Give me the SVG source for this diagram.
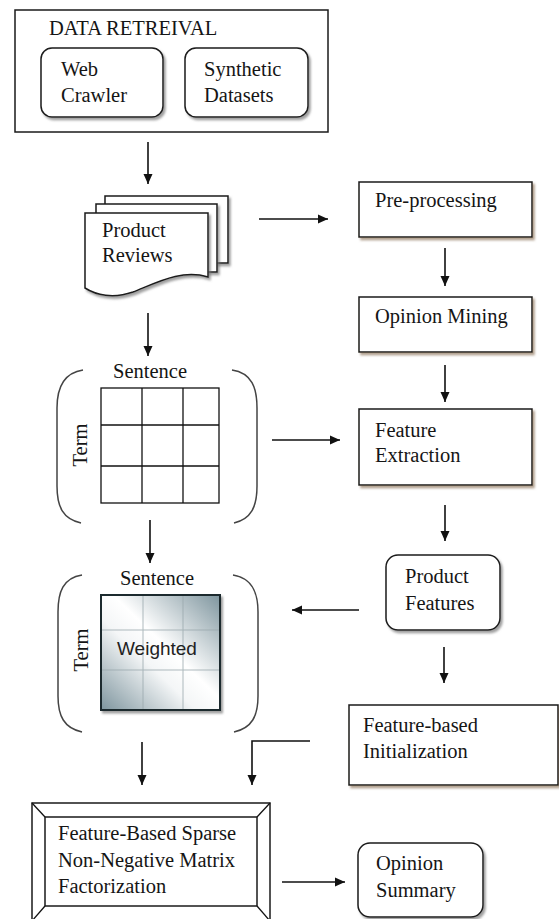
<svg xmlns="http://www.w3.org/2000/svg" width="559" height="919" viewBox="0 0 559 919">
<style>
.t{font-family:"Liberation Serif","Times New Roman",serif;font-size:20.5px;fill:#151515}
.s{font-family:"Liberation Sans",Arial,sans-serif;font-size:19px;fill:#222}
.box{fill:#fff;stroke:#1a1a1a;stroke-width:1.5}
.sh{filter:url(#ds)}
.shb{filter:url(#dsb)}
.ln{fill:none;stroke:#111;stroke-width:1.6}
.gl{fill:none;stroke:#111;stroke-width:1.3}
.br{fill:none;stroke:#444;stroke-width:1.5}
</style>
<defs>
<filter id="ds" x="-10%" y="-10%" width="130%" height="130%">
<feDropShadow dx="2" dy="2.5" stdDeviation="1.2" flood-color="#777" flood-opacity="0.7"/>
</filter>
<filter id="dsb" x="-10%" y="-10%" width="130%" height="130%">
<feDropShadow dx="2" dy="2.5" stdDeviation="1" flood-color="#9c8670" flood-opacity="0.8"/>
</filter>
<marker id="ah" viewBox="0 0 10 10" refX="10" refY="5" markerWidth="10" markerHeight="10" markerUnits="userSpaceOnUse" orient="auto">
<path d="M0,0.5 L10,5 L0,9.5 Z" fill="#111"/>
</marker>
<linearGradient id="wg" x1="1" y1="0" x2="0" y2="1">
<stop offset="0" stop-color="#7e959e"/>
<stop offset="0.45" stop-color="#ffffff"/>
<stop offset="0.6" stop-color="#f4f6f7"/>
<stop offset="1" stop-color="#7e959e"/>
</linearGradient>
</defs>

<g id="data-retrieval">
<rect class="box" x="15" y="10" width="313" height="122"/>
<text class="t" x="49" y="35">DATA RETREIVAL</text>
</g>
<g id="web-crawler">
<rect class="box sh" x="41" y="48" width="122" height="69" rx="11"/>
<text class="t" x="61" y="76">Web</text>
<text class="t" x="61" y="102">Crawler</text>
</g>
<g id="synthetic-datasets">
<rect class="box sh" x="185" y="48" width="123" height="69" rx="11"/>
<text class="t" x="204" y="76">Synthetic</text>
<text class="t" x="204" y="102">Datasets</text>
</g>

<g id="product-reviews">
<rect class="box sh" x="105" y="196" width="123" height="67"/>
<rect class="box sh" x="96" y="204" width="121" height="68"/>
<path class="box sh" d="M85,213 H208 V277 C182,269 158,282 133,292 C113,299 96,295 85,288 Z"/>
<text class="t" x="102" y="237">Product</text>
<text class="t" x="102" y="262">Reviews</text>
</g>

<g id="pre-processing">
<rect class="box shb" x="359" y="182" width="173" height="55"/>
<text class="t" x="375" y="207">Pre-processing</text>
</g>
<g id="opinion-mining">
<rect class="box shb" x="359" y="297" width="173" height="55"/>
<text class="t" x="375" y="323">Opinion Mining</text>
</g>
<g id="feature-extraction">
<rect class="box shb" x="359" y="409" width="173" height="76"/>
<text class="t" x="375" y="437">Feature</text>
<text class="t" x="375" y="462">Extraction</text>
</g>

<g id="term-sentence-matrix">
<path class="br" d="M83,370 C63,373 57,388 57,408 V486 C57,507 63,519 81,523"/>
<path class="br" d="M232,370 C252,373 257,388 257,408 V486 C257,507 251,519 234,523"/>
<text class="t" x="113" y="378">Sentence</text>
<text class="t" transform="translate(87,445) rotate(-90)" text-anchor="middle">Term</text>
<rect class="gl" x="101" y="388" width="118" height="115"/>
<line class="gl" x1="142" y1="388" x2="142" y2="503"/>
<line class="gl" x1="183" y1="388" x2="183" y2="503"/>
<line class="gl" x1="101" y1="425" x2="219" y2="425"/>
<line class="gl" x1="101" y1="466" x2="219" y2="466"/>
</g>

<g id="weighted-matrix">
<path class="br" d="M82,575 C63,578 58,592 58,612 V696 C58,716 64,728 82,732"/>
<path class="br" d="M233,575 C252,578 258,592 258,612 V696 C258,716 252,728 234,732"/>
<text class="t" x="120" y="585">Sentence</text>
<text class="t" transform="translate(88,650) rotate(-90)" text-anchor="middle">Term</text>
<rect x="101" y="595" width="119" height="115" fill="url(#wg)" stroke="#1f2a2e" stroke-width="2" class="sh"/>
<g stroke="#9aa8ad" stroke-width="1" opacity="0.8">
<line x1="143" y1="596" x2="143" y2="709"/>
<line x1="183" y1="596" x2="183" y2="709"/>
<line x1="102" y1="630" x2="219" y2="630"/>
<line x1="102" y1="670" x2="219" y2="670"/>
</g>
<text class="s" x="117" y="655">Weighted</text>
</g>

<g id="product-features">
<rect class="box sh" x="386" y="555" width="114" height="75" rx="12"/>
<text class="t" x="405" y="583">Product</text>
<text class="t" x="405" y="610">Features</text>
</g>

<g id="feature-based-initialization">
<rect class="box shb" x="349" y="705" width="209" height="80"/>
<text class="t" x="363" y="732">Feature-based</text>
<text class="t" x="363" y="758">Initialization</text>
</g>

<g id="fbs-nmf">
<rect class="box" x="32" y="803" width="238" height="118"/>
<rect class="box" x="45" y="817" width="212" height="89"/>
<line class="gl" x1="32" y1="803" x2="45" y2="817"/>
<line class="gl" x1="270" y1="803" x2="257" y2="817"/>
<line class="gl" x1="32" y1="921" x2="45" y2="906"/>
<line class="gl" x1="270" y1="921" x2="257" y2="906"/>
<text class="t" x="58" y="840">Feature-Based Sparse</text>
<text class="t" x="58" y="867">Non-Negative Matrix</text>
<text class="t" x="58" y="893">Factorization</text>
</g>

<g id="opinion-summary">
<rect class="box sh" x="358" y="843" width="125" height="74" rx="12"/>
<text class="t" x="376" y="870">Opinion</text>
<text class="t" x="376" y="897">Summary</text>
</g>

<g id="connectors">
<line class="ln" x1="148" y1="142" x2="148" y2="184" marker-end="url(#ah)"/>
<line class="ln" x1="259" y1="219" x2="328" y2="219" marker-end="url(#ah)"/>
<line class="ln" x1="445" y1="248" x2="445" y2="286" marker-end="url(#ah)"/>
<line class="ln" x1="445" y1="365" x2="445" y2="402" marker-end="url(#ah)"/>
<line class="ln" x1="148" y1="313" x2="148" y2="356" marker-end="url(#ah)"/>
<line class="ln" x1="272" y1="440" x2="340" y2="440" marker-end="url(#ah)"/>
<line class="ln" x1="445" y1="505" x2="445" y2="541" marker-end="url(#ah)"/>
<line class="ln" x1="150" y1="520" x2="150" y2="563" marker-end="url(#ah)"/>
<line class="ln" x1="359" y1="610" x2="292" y2="610" marker-end="url(#ah)"/>
<line class="ln" x1="444" y1="647" x2="444" y2="683" marker-end="url(#ah)"/>
<line class="ln" x1="142" y1="742" x2="142" y2="785" marker-end="url(#ah)"/>
<polyline class="ln" points="310,741 252,741 252,785" marker-end="url(#ah)"/>
<line class="ln" x1="282" y1="882" x2="345" y2="882" marker-end="url(#ah)"/>
</g>
</svg>
